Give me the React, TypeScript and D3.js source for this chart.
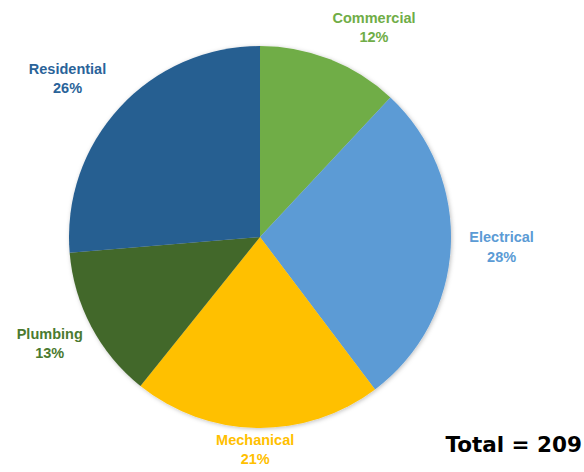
import React from "react";
import * as d3 from "d3";

const categories = ["Commercial", "Electrical", "Mechanical", "Plumbing", "Residential"];
const counts = [25, 58, 44, 27, 55];
const colors = ["#70AD47", "#5B9BD5", "#FFC000", "#43682B", "#255E91"];
const labelColors = ["#70AD47", "#5B9BD5", "#FFC000", "#4B7A30", "#2A6399"];

const W = 584;
const H = 472;
const CX = 260;
const CY = 237;
const R = 191;

export default function App() {
  const total = d3.sum(counts);
  const pie = d3.pie<number>().sort(null).value((d) => d)(counts);
  const arc = d3.arc<d3.PieArcDatum<number>>().innerRadius(0).outerRadius(R);
  const fontSize = 14.5;
  const lineH = 19.5;
  const measure = (s: string) => s.length * fontSize * 0.55;

  return (
    <svg
      width={W}
      height={H}
      style={{ position: "absolute", left: 0, top: 0, display: "block" }}
      fontFamily="'Liberation Sans', Arial, sans-serif"
    >
      <defs>
        <filter id="sh" x="-10%" y="-10%" width="120%" height="120%">
          <feDropShadow dx="1" dy="1" stdDeviation="2" floodColor="#000" floodOpacity="0.25" />
        </filter>
      </defs>
      <rect width={W} height={H} fill="#fff" />
      <g transform={`translate(${CX},${CY})`} filter="url(#sh)">
        {pie.map((p, i) => (
          <path key={i} d={arc(p) || ""} fill={colors[i]} />
        ))}
      </g>
      {pie.map((p, i) => {
        const a = (p.startAngle + p.endAngle) / 2;
        const g = 11;
        const px = CX + (R + g) * Math.sin(a);
        const py = CY - (R + g) * Math.cos(a);
        const w = Math.max(measure(categories[i]), 40);
        const h = lineH * 2;
        const clamp = (v: number) => Math.max(-1, Math.min(1, v));
        const cx = px + (w / 2) * clamp(Math.sin(a) * 3);
        const cy = py - (h / 2) * clamp(Math.cos(a) * 1.5);
        const y1 = Math.min(cy - 7, H - 8 - lineH);
        const pct = Math.round((counts[i] / total) * 100) + "%";
        return (
          <text
            key={i}
            x={cx}
            y={y1}
            textAnchor="middle"
            fontWeight="bold"
            fontSize={fontSize}
            fill={labelColors[i]}
          >
            <tspan x={cx} dy={0}>{categories[i]}</tspan>
            <tspan x={cx} dy={lineH}>{pct}</tspan>
          </text>
        );
      })}
      <text
        x={582}
        y={452}
        textAnchor="end"
        fontFamily="'DejaVu Sans', Verdana, sans-serif"
        fontWeight="bold"
        fontSize={21.5}
        fill="#000"
      >
        {`Total = ${total}`}
      </text>
    </svg>
  );
}
